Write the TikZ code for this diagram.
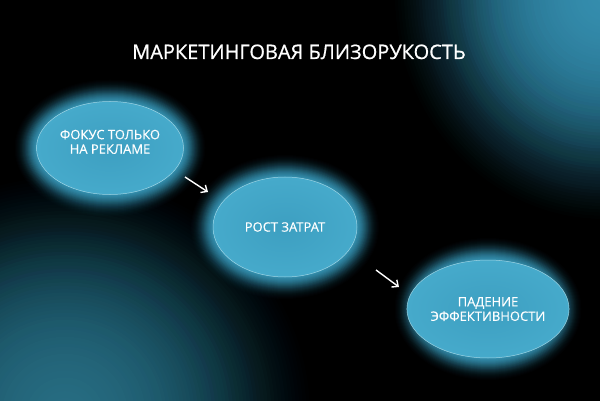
\documentclass[tikz,border=0pt]{standalone}
\usepackage{fontspec}
\setmainfont{Open Sans}
\newfontfamily\medfont{Open Sans}[FakeBold=0.7]
\usetikzlibrary{arrows.meta,shapes.geometric}
\definecolor{trc}{HTML}{3F99BA}
\definecolor{blc}{HTML}{32798F}
\definecolor{glowc}{HTML}{41A9CC}
\definecolor{ellin}{HTML}{3D9FC1}
\definecolor{ellmid}{HTML}{46AACB}
\definecolor{ellout}{HTML}{5ABCDB}
\definecolor{rimc}{HTML}{B5E2EE}
\pgfdeclareradialshading{ellshade}{\pgfpoint{0bp}{0bp}}{color(0bp)=(ellin); color(25bp)=(ellmid); color(35bp)=(ellout); color(50bp)=(ellout)}
\pgfdeclarelayer{bg}
\pgfdeclarelayer{glow}
\pgfsetlayers{bg,glow,main}
\tikzset{
  stepell/.style={ellipse, shading=ellshade, draw=rimc, draw opacity=0.8, line width=0.5pt,
    inner sep=0pt, text=white, align=center,
    font=\medfont\fontsize{13}{14.5}\selectfont},
  flowarrow/.style={draw=white, line width=1.4pt, -{Straight Barb[length=5pt,width=9pt,line width=1.4pt]}},
  titletext/.style={text=white, font=\medfont\fontsize{20}{22}\selectfont, inner sep=0pt}
}
\begin{document}
\begin{tikzpicture}[x=1pt,y=-1pt]
\useasboundingbox (0,0) rectangle (600,401);
\begin{pgfonlayer}{bg}
  \fill[black] (0,0) rectangle (600,401);
  \begin{scope}
    \clip (0,0) rectangle (600,401);
    \foreach \k [evaluate=\k as \op using {0.015+0.12*(1-\k/70)^1.2}] in {1,...,70}{
      \fill[trc, opacity=\op] (605,-5) ellipse [x radius={\k*3pt}, y radius={\k*3.2pt}];
    }
    \foreach \k [evaluate=\k as \op using {0.015+0.11*(1-\k/70)^1.2}] in {1,...,70}{
      \fill[blc, opacity=\op] (65,415) ellipse [x radius={\k*3.5pt}, y radius={\k*3.4pt}];
    }
  \end{scope}
\end{pgfonlayer}

\node[titletext, anchor=base] (title) at (299,59) {МАРКЕТИНГОВАЯ БЛИЗОРУКОСТЬ};

\node[stepell, minimum width=147pt, minimum height=93pt] (e1) at (110,148) {ФОКУС ТОЛЬКО\\НА РЕКЛАМЕ\\[-2pt]};
\node[stepell, minimum width=144pt, minimum height=100pt] (e2) at (285,227) {РОСТ ЗАТРАТ};
\node[stepell, minimum width=143pt, minimum height=98pt] (e3) at (488,309) {ПАДЕНИЕ\\ЭФФЕКТИВНОСТИ};

\begin{pgfonlayer}{glow}
  \foreach \i [evaluate=\i as \op using {0.015+0.2*(1-\i/22)^1.6}] in {1,...,22}{
    \fill[glowc, opacity=\op] (e1.center) ellipse [x radius={73.5pt+\i pt}, y radius={46.5pt+\i pt}];
    \fill[glowc, opacity=\op] (e2.center) ellipse [x radius={72pt+\i pt}, y radius={50pt+\i pt}];
    \fill[glowc, opacity=\op] (e3.center) ellipse [x radius={71.5pt+\i pt}, y radius={49pt+\i pt}];
  }
\end{pgfonlayer}

\coordinate (a1s) at (185,177);
\coordinate (a1e) at (208,192);
\coordinate (a2s) at (376,270);
\coordinate (a2e) at (399,287);
\draw[flowarrow] (a1s) -- (a1e);
\draw[flowarrow] (a2s) -- (a2e);
\end{tikzpicture}
\end{document}
